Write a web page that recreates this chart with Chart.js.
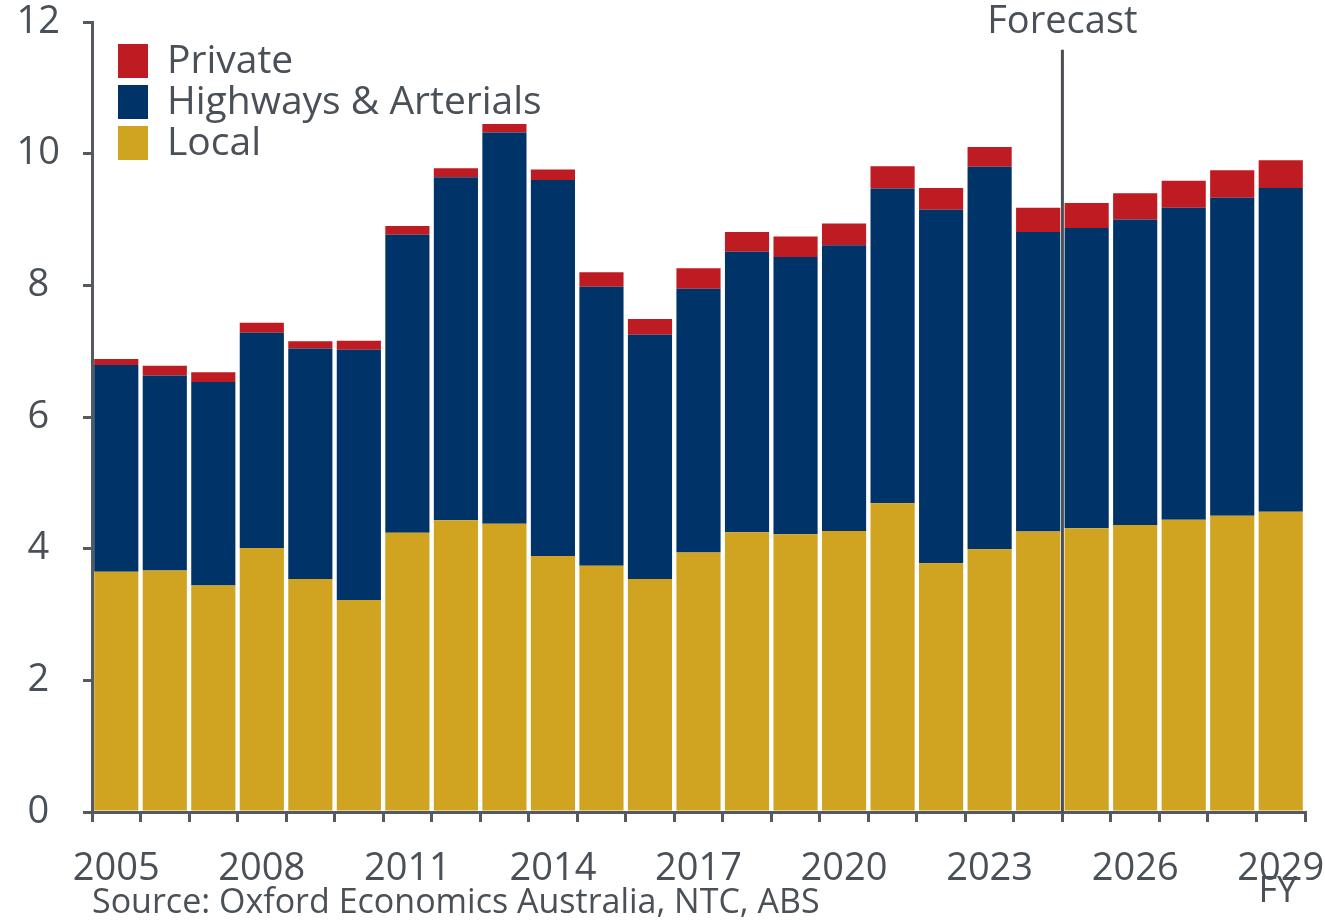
<!DOCTYPE html>
<html>
<head>
<meta charset="utf-8">
<script src="https://cdn.jsdelivr.net/npm/chart.js@4"></script>
<style>
  html, body { margin: 0; padding: 0; background: #fff; }
  #wrap { width: 1325px; height: 920px; }
</style>
</head>
<body>
<div id="wrap"><canvas id="roadChart" width="1325" height="920"></canvas></div>
<script>
// data ($bn, FY)
const years = ["2005","2006","2007","2008","2009","2010","2011","2012","2013","2014","2015","2016",
  "2017","2018","2019","2020","2021","2022","2023","2024","2025","2026","2027","2028","2029"];
const local = [3.65,3.67,3.44,4.01,3.54,3.22,4.24,4.43,4.38,3.89,3.74,3.54,
  3.94,4.25,4.22,4.27,4.69,3.78,3.99,4.26,4.31,4.36,4.44,4.50,4.56];
const highways = [3.14,2.96,3.09,3.27,3.50,3.80,4.53,5.21,5.94,5.71,4.24,3.71,
  4.01,4.26,4.21,4.34,4.78,5.37,5.81,4.55,4.56,4.64,4.74,4.83,4.92];
const privateRoads = [0.09,0.15,0.15,0.15,0.11,0.14,0.13,0.14,0.13,0.16,0.22,0.24,
  0.31,0.30,0.31,0.33,0.34,0.33,0.30,0.37,0.38,0.40,0.41,0.42,0.42];
const yTicks = [0, 2, 4, 6, 8, 10, 12];
const forecastStart = 20; // index of 2025

const textColor = "#4a5057";
const axisColor = "#555a60";
const fontFamily = "'Open Sans', sans-serif";

// legend, forecast marker and notes drawn on top
const extras = {
  id: "extras",
  afterDraw(chart) {
    const c = chart.ctx;
    const xs = chart.scales.x;
    const ys = chart.scales.y;
    c.save();

    // forecast line
    const fx = (xs.getPixelForValue(forecastStart - 1) + xs.getPixelForValue(forecastStart)) / 2;
    c.strokeStyle = "#4a4f55";
    c.lineWidth = 3;
    c.beginPath();
    c.moveTo(fx, ys.getPixelForValue(11.58));
    c.lineTo(fx, ys.bottom);
    c.stroke();

    c.fillStyle = textColor;
    c.font = "38px " + fontFamily;
    c.textAlign = "center";
    c.textBaseline = "middle";
    c.fillText("Forecast", fx, 22);

    // legend (reverse order)
    const items = chart.data.datasets.slice().reverse();
    c.textAlign = "left";
    c.font = "39px " + fontFamily;
    items.forEach((ds, i) => {
      const y = 61 + i * 41;
      c.fillStyle = ds.backgroundColor;
      c.fillRect(118, y - 17, 30, 34);
      c.fillStyle = textColor;
      c.fillText(ds.label, 167, y + 1);
    });

    // FY label
    c.textAlign = "center";
    c.font = "36px " + fontFamily;
    c.fillText("FY", xs.getPixelForValue(years.length - 1) - 3, 892);

    // source
    c.textAlign = "left";
    c.font = "34px " + fontFamily;
    c.fillText("Source: Oxford Economics Australia, NTC, ABS", 92, 903);
    c.restore();
  }
};

new Chart(document.getElementById("roadChart"), {
  type: "bar",
  data: {
    labels: years,
    datasets: [
      { label: "Local", data: local, backgroundColor: "#d0a321" },
      { label: "Highways & Arterials", data: highways, backgroundColor: "#003468" },
      { label: "Private", data: privateRoads, backgroundColor: "#be1b23" }
    ]
  },
  options: {
    responsive: false,
    animation: false,
    devicePixelRatio: 1,
    layout: { autoPadding: false, padding: { top: 22, right: 20, left: 0, bottom: 0 } },
    datasets: { bar: { categoryPercentage: 0.91, barPercentage: 1, borderWidth: 0 } },
    plugins: { legend: { display: false }, tooltip: { enabled: false } },
    scales: {
      x: {
        stacked: true,
        afterFit(scale) { scale.height = 108; scale.paddingLeft = 0; scale.paddingRight = 0; },
        border: { color: axisColor, width: 3 },
        grid: { offset: true, drawOnChartArea: false, color: axisColor, lineWidth: 3, tickLength: 10 },
        ticks: {
          autoSkip: false,
          maxRotation: 0,
          padding: 24,
          color: textColor,
          font: { family: fontFamily, size: 38 },
          callback: (v, i) => (i % 3 === 0 ? years[i] : "")
        }
      },
      y: {
        stacked: true,
        min: 0,
        max: 12,
        afterFit(scale) { scale.width = 92; scale.paddingTop = 0; scale.paddingBottom = 0; },
        afterBuildTicks(scale) { scale.ticks = yTicks.map(v => ({ value: v })); },
        border: { color: axisColor, width: 3 },
        grid: { drawOnChartArea: false, color: axisColor, lineWidth: 3, tickLength: 9 },
        ticks: {
          crossAlign: "center",
          padding: 23,
          color: textColor,
          font: { family: fontFamily, size: 38 }
        }
      }
    }
  },
  plugins: [extras]
});
</script>
</body>
</html>
